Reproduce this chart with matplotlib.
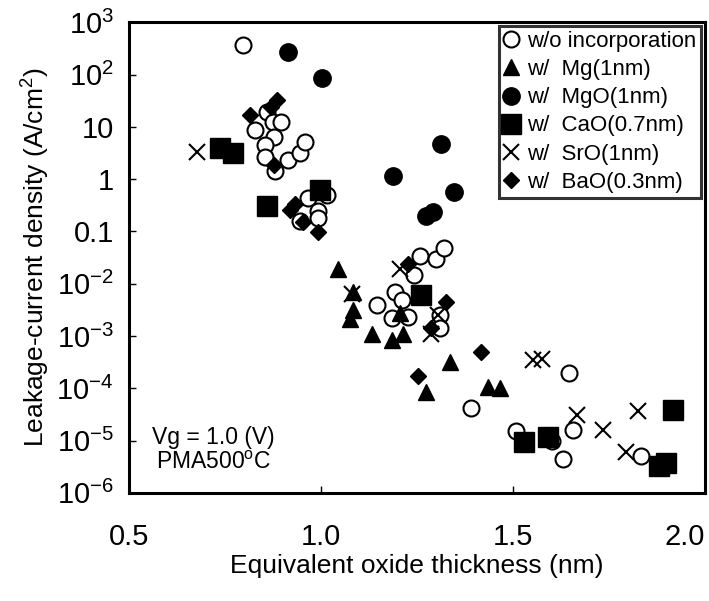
# leakage current density vs EOT, different incorporations
import matplotlib.pyplot as plt
import numpy as np

plt.rcParams['font.family'] = ['Liberation Sans', 'DejaVu Sans']
plt.rcParams['mathtext.fontset'] = 'custom'
plt.rcParams['mathtext.rm'] = 'Liberation Sans'

# w/o incorporation (open circles)
none_x = [0.796, 0.860, 0.876, 0.896, 0.828, 0.878, 0.854, 0.854, 0.880, 0.915, 0.946, 0.958,
          0.967, 1.015, 0.993, 0.945, 0.993,
          1.258, 1.299, 1.320, 1.243, 1.193, 1.210, 1.145, 1.184, 1.227, 1.310, 1.310,
          1.647, 1.392, 1.508, 1.601, 1.657, 1.631, 1.835]
none_y = [363, 19.3, 12.4, 12.1, 8.6, 6.4, 4.4, 2.7, 1.44, 2.3, 3.1, 5.1,
          0.43, 0.49, 0.25, 0.16, 0.18,
          0.034, 0.030, 0.049, 0.0145, 0.007, 0.0048, 0.0039, 0.0022, 0.0023, 0.0025, 0.0014,
          2.0e-4, 4.1e-5, 1.5e-5, 9.6e-6, 1.6e-5, 4.4e-6, 5.1e-6]

# w/ Mg(1nm)
mg_x = [1.045, 1.084, 1.084, 1.076, 1.132, 1.184, 1.214, 1.207, 1.336, 1.275, 1.436, 1.466]
mg_y = [0.0195, 0.007, 0.0031, 0.0021, 0.0011, 0.00083, 0.0011, 0.0027, 3.2e-4, 8.5e-5, 1.07e-4, 1.0e-4]

# w/ MgO(1nm)
mgo_x = [0.915, 1.004, 1.314, 1.187, 1.346, 1.292, 1.273]
mgo_y = [270, 86, 4.6, 1.13, 0.57, 0.24, 0.195]

# w/ CaO(0.7nm)
cao_x = [0.737, 0.770, 0.860, 0.997, 1.260, 1.529, 1.592, 1.916, 1.881, 1.900]
cao_y = [3.85, 3.2, 0.30, 0.61, 0.006, 9.5e-6, 1.17e-5, 3.8e-5, 3.2e-6, 3.7e-6]

# w/ SrO(1nm)
sro_x = [0.676, 1.207, 1.080, 1.286, 1.306, 1.553, 1.575, 1.666, 1.735, 1.826, 1.796]
sro_y = [3.3, 0.0195, 0.0064, 0.0011, 0.0025, 3.5e-4, 3.7e-4, 3.1e-5, 1.6e-5, 3.6e-5, 6.0e-6]

# w/ BaO(0.3nm)
bao_x = [0.815, 0.885, 0.870, 0.878, 0.932, 0.919, 0.954, 0.993, 1.227, 1.327, 1.286, 1.252, 1.418]
bao_y = [16.7, 32, 24, 1.9, 0.34, 0.26, 0.15, 0.098, 0.024, 0.0045, 0.0014, 1.7e-4, 5.0e-4]

ytick_vals = [1e3, 1e2, 1e1, 1, 0.1, 1e-2, 1e-3, 1e-4, 1e-5, 1e-6]
ytick_labels = [r'$\mathregular{10^{3}}$', r'$\mathregular{10^{2}}$', '10', '1', '0.1',
                r'$\mathregular{10^{-2}}$', r'$\mathregular{10^{-3}}$', r'$\mathregular{10^{-4}}$',
                r'$\mathregular{10^{-5}}$', r'$\mathregular{10^{-6}}$']
xtick_vals = [0.5, 1.0, 1.5, 2.0]
xtick_labels = ['0.5', '1.0', '1.5', '2.0']

fig = plt.figure(figsize=(7.09, 6.01), dpi=100)
ax = fig.add_axes([0.182, 0.18, 0.812, 0.783])

ax.plot(none_x, none_y, 'o', ms=11.5, mfc='white', mec='black', mew=1.5, label='w/o incorporation')
ax.plot(mg_x, mg_y, '^', ms=12, color='black', label='w/  Mg(1nm)')
ax.plot(mgo_x, mgo_y, 'o', ms=12.5, color='black', label='w/  MgO(1nm)')
ax.plot(cao_x, cao_y, 's', ms=14.5, color='black', label='w/  CaO(0.7nm)')
ax.plot(sro_x, sro_y, 'x', ms=11.5, color='black', mew=1.5, label='w/  SrO(1nm)')
ax.plot(bao_x, bao_y, 'D', ms=7.8, color='black', label='w/  BaO(0.3nm)')

ax.set_yscale('log')
ax.set_xlim(0.5, 2.0)
ax.set_ylim(1e-6, 1e3)
ax.set_yticks(ytick_vals)
ax.set_yticklabels(ytick_labels)
ax.minorticks_off()
ax.set_xticks(xtick_vals)
ax.set_xticklabels(xtick_labels)
ax.get_xticklabels()[-1].set_ha('right')

ax.tick_params(axis='both', direction='in', length=5, width=1, labelsize=21)
ax.tick_params(axis='x', pad=22)
ax.tick_params(axis='y', pad=11)
for s in ax.spines.values():
    s.set_linewidth(2.2)

ax.set_xlabel('Equivalent oxide thickness (nm)', fontsize=19, labelpad=2)
ax.set_ylabel(r'Leakage-current density (A/cm$^{\mathregular{2}}$)', fontsize=19, labelpad=4)

ax.text(0.147, 0.118, 'Vg = 1.0 (V)', transform=ax.transAxes, ha='center', va='center', fontsize=16.5)
ax.text(0.147, 0.064, r'PMA500$^{\mathregular{o}}$C', transform=ax.transAxes, ha='center', va='center', fontsize=16.5)

leg = ax.legend(loc='upper right', fontsize=16, frameon=True, fancybox=False, edgecolor='black',
                handlelength=0.6, handletextpad=0.4, labelspacing=0.32, borderpad=0.25,
                borderaxespad=0.15, markerscale=1.0)
leg.get_frame().set_linewidth(2.2)

fig.savefig('out.png', dpi=100)
